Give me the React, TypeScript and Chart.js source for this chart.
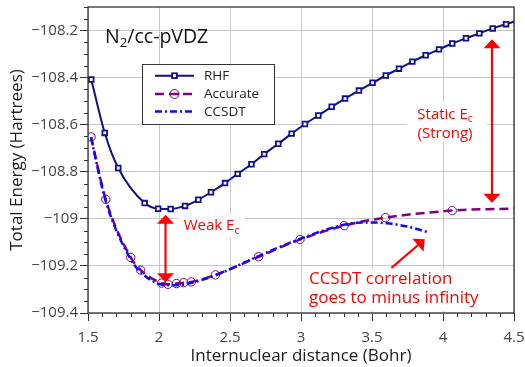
import React, { useEffect, useRef } from 'react';
import { Chart, registerables } from 'chart.js';

Chart.register(...registerables);

// ---------- data ----------
const rhfX = [1.523, 1.618, 1.713, 1.899, 1.994, 2.082, 2.183, 2.277, 2.366, 2.465, 2.554, 2.651, 2.741, 2.840, 2.934, 3.028, 3.122, 3.216, 3.310, 3.408, 3.504, 3.597, 3.690, 3.784, 3.878, 3.972, 4.065, 4.162, 4.256, 4.350, 4.444, 4.538];
const rhfE = [-108.408, -108.635, -108.784, -108.933, -108.957, -108.958, -108.945, -108.919, -108.887, -108.848, -108.809, -108.768, -108.725, -108.681, -108.638, -108.597, -108.561, -108.524, -108.489, -108.455, -108.422, -108.391, -108.362, -108.332, -108.305, -108.280, -108.255, -108.233, -108.212, -108.191, -108.173, -108.155];

const accX = [1.521, 1.625, 1.801, 1.871, 2.018, 2.063, 2.123, 2.174, 2.227, 2.397, 2.702, 2.993, 3.304, 3.595, 4.065, 4.5];
const accE = [-108.652, -108.917, -109.164, -109.218, -109.273, -109.278, -109.275, -109.271, -109.268, -109.238, -109.161, -109.088, -109.029, -108.995, -108.965, -108.956];
const accMarker = [true, true, true, true, true, true, true, true, true, true, true, true, true, true, true, false];

const ccX = [1.521, 1.625, 1.801, 1.871, 2.018, 2.123, 2.227, 2.397, 2.702, 2.993, 3.304, 3.44, 3.61, 3.75, 3.887];
const ccE = [-108.655, -108.925, -109.172, -109.226, -109.279, -109.282, -109.272, -109.240, -109.158, -109.085, -109.025, -109.015, -109.019, -109.033, -109.055];

const xTicks = [1.5, 2, 2.5, 3, 3.5, 4, 4.5];
const xTickLabels = ['1.5', '2', '2.5', '3', '3.5', '4', '4.5'];
const yTicks = [-109.4, -109.2, -109, -108.8, -108.6, -108.4, -108.2];
const yTickLabels = ['\u2212109.4', '\u2212109.2', '\u2212109', '\u2212108.8', '\u2212108.6', '\u2212108.4', '\u2212108.2'];
const xMinorPerMajor = 5; // minor ticks every 0.1
const yMinorPerMajor = 4; // minor ticks every 0.05

const seriesNames = ['RHF', 'Accurate', 'CCSDT'];
const xTitle = 'Internuclear distance (Bohr)';
const yTitle = 'Total Energy (Hartrees)';

// ---------- styles ----------
const FONT = '"Open Sans", "Noto Sans", sans-serif';
const NAVY = '#10108a';
const PURPLE = '#800080';
const BLUE = '#0a0aff';
const RED = '#ff0000';
const GRID = '#c8c8c8';
const AXIS = '#333333';

type Part = { t: string; sub?: boolean };

function drawRich(ctx: CanvasRenderingContext2D, parts: Part[], x: number, y: number, size: number, align: 'left' | 'center', color: string) {
  const subSize = size * 0.68;
  ctx.textBaseline = 'alphabetic';
  const widths = parts.map(p => {
    ctx.font = `${p.sub ? subSize : size}px ${FONT}`;
    return ctx.measureText(p.t).width;
  });
  const total = widths.reduce((a, b) => a + b, 0);
  let cx = align === 'center' ? x - total / 2 : x;
  ctx.fillStyle = color;
  ctx.textAlign = 'left';
  parts.forEach((p, i) => {
    ctx.font = `${p.sub ? subSize : size}px ${FONT}`;
    ctx.fillText(p.t, cx, p.sub ? y + size * 0.22 : y);
    cx += widths[i];
  });
  return { left: align === 'center' ? x - total / 2 : x, width: total };
}

function drawArrow(ctx: CanvasRenderingContext2D, x1: number, y1: number, x2: number, y2: number, both: boolean) {
  const hl = 9, hw = 8.5;
  const dx = x2 - x1, dy = y2 - y1;
  const len = Math.hypot(dx, dy);
  const ux = dx / len, uy = dy / len;
  const px = -uy, py = ux;
  ctx.strokeStyle = RED;
  ctx.fillStyle = RED;
  ctx.lineWidth = 2.2;
  ctx.setLineDash([]);
  ctx.beginPath();
  const sx = both ? x1 + ux * hl * 0.8 : x1;
  const sy = both ? y1 + uy * hl * 0.8 : y1;
  ctx.moveTo(sx, sy);
  ctx.lineTo(x2 - ux * hl * 0.8, y2 - uy * hl * 0.8);
  ctx.stroke();
  const head = (tx: number, ty: number, dirx: number, diry: number) => {
    ctx.beginPath();
    ctx.moveTo(tx, ty);
    ctx.lineTo(tx - dirx * hl + px * hw, ty - diry * hl + py * hw);
    ctx.lineTo(tx - dirx * hl - px * hw, ty - diry * hl - py * hw);
    ctx.closePath();
    ctx.fill();
  };
  head(x2, y2, ux, uy);
  if (both) head(x1, y1, -ux, -uy);
}

// annotation anchors in data coordinates
const titleAnchor = { x: 1.62, y: -108.251 };
const staticAnchor = { x: 4.014, y1: -108.553, y2: -108.634 };
const weakAnchor = { x: 2.174, y: -109.026 };
const ccsdtAnchor = { x: 3.056, y1: -109.251, y2: -109.332 };
const staticArrow = { x1: 4.345, y1: -108.237, x2: 4.345, y2: -108.932 };
const weakArrow = { x1: 2.046, y1: -108.983, x2: 2.046, y2: -109.269 };
const ccsdtArrow = { x1: 3.637, y1: -109.208, x2: 3.872, y2: -109.087 };

const bgPlugin = {
  id: 'textBackgrounds',
  beforeDatasetsDraw(chart: any) {
    const { ctx, scales } = chart;
    const xs = scales.x, ys = scales.y;
    ctx.save();
    ctx.fillStyle = '#ffffff';
    const cx = xs.getPixelForValue(staticAnchor.x);
    ctx.fillRect(cx - 38, ys.getPixelForValue(staticAnchor.y1) - 12, 80, 40);
    let lx = xs.getPixelForValue(weakAnchor.x);
    ctx.fillRect(lx - 5, ys.getPixelForValue(weakAnchor.y) - 11, 66, 24);
    lx = xs.getPixelForValue(ccsdtAnchor.x);
    ctx.fillRect(lx - 6, ys.getPixelForValue(ccsdtAnchor.y1) - 9, 186, 42);
    ctx.restore();
  },
};

const decorPlugin = {
  id: 'decor',
  afterDraw(chart: any) {
    const { ctx, chartArea: ca, scales } = chart;
    const xs = scales.x, ys = scales.y;
    ctx.save();
    ctx.strokeStyle = AXIS;
    ctx.lineWidth = 1.3;
    ctx.setLineDash([]);
    ctx.strokeRect(ca.left, ca.top, ca.right - ca.left, ca.bottom - ca.top);

    // minor ticks
    ctx.lineWidth = 1;
    ctx.beginPath();
    for (let i = 0; i < xTicks.length - 1; i++) {
      for (let k = 1; k < xMinorPerMajor; k++) {
        const v = xTicks[i] + (xTicks[i + 1] - xTicks[i]) * k / xMinorPerMajor;
        const p = Math.round(xs.getPixelForValue(v)) + 0.5;
        ctx.moveTo(p, ca.bottom);
        ctx.lineTo(p, ca.bottom + 4);
      }
    }
    const yStep = (yTicks[1] - yTicks[0]) / yMinorPerMajor;
    for (let i = 0; i < yTicks.length - 1; i++) {
      for (let k = 1; k < yMinorPerMajor; k++) {
        const v = yTicks[i] + yStep * k;
        const p = Math.round(ys.getPixelForValue(v)) + 0.5;
        ctx.moveTo(ca.left, p);
        ctx.lineTo(ca.left - 4, p);
      }
    }
    for (let k = 1; k <= 2; k++) {
      const v = yTicks[yTicks.length - 1] + yStep * k;
      if (v <= ys.max + 1e-9) {
        const p = Math.round(ys.getPixelForValue(v)) + 0.5;
        ctx.moveTo(ca.left, p);
        ctx.lineTo(ca.left - 4, p);
      }
    }
    ctx.stroke();

    // legend
    const lgX = ca.left + 54, lgY = ca.top + 57, lgW = 132, lgH = 60;
    ctx.fillStyle = '#ffffff';
    ctx.fillRect(lgX, lgY, lgW, lgH);
    ctx.strokeStyle = AXIS;
    ctx.lineWidth = 1;
    ctx.strokeRect(lgX + 0.5, lgY + 0.5, lgW, lgH);
    const rows = [11.7, 30, 47.4];
    const ds = chart.data.datasets;
    rows.forEach((off, i) => {
      const d = ds.find((q: any) => q.label === seriesNames[i]);
      const y = lgY + off;
      ctx.strokeStyle = d.borderColor;
      ctx.lineWidth = d.borderWidth;
      ctx.setLineDash(d.borderDash || []);
      ctx.beginPath();
      ctx.moveTo(lgX + 13, y);
      ctx.lineTo(lgX + 52, y);
      ctx.stroke();
      ctx.setLineDash([]);
      const mx = lgX + 32.5;
      if (i === 0) {
        ctx.fillStyle = '#fff';
        ctx.strokeStyle = NAVY;
        ctx.lineWidth = 1.8;
        ctx.fillRect(mx - 2.4, y - 2.4, 4.8, 4.8);
        ctx.strokeRect(mx - 2.4, y - 2.4, 4.8, 4.8);
      } else if (i === 1) {
        ctx.fillStyle = '#fff';
        ctx.strokeStyle = PURPLE;
        ctx.lineWidth = 1;
        ctx.beginPath();
        ctx.arc(mx, y, 4.5, 0, Math.PI * 2);
        ctx.fill();
        ctx.stroke();
        ctx.beginPath();
        ctx.lineWidth = d.borderWidth;
        ctx.moveTo(mx - 4.5, y);
        ctx.lineTo(mx + 4.5, y);
        ctx.stroke();
      }
      ctx.fillStyle = '#222';
      ctx.font = `13.5px ${FONT}`;
      ctx.textAlign = 'left';
      ctx.textBaseline = 'middle';
      ctx.fillText(seriesNames[i], lgX + 62, y + 0.5);
    });

    drawRich(ctx, [{ t: 'N' }, { t: '2', sub: true }, { t: '/cc-pVDZ' }], xs.getPixelForValue(titleAnchor.x), ys.getPixelForValue(titleAnchor.y), 19.5, 'left', '#111');

    const tsize = 15;
    const base = tsize * 0.36;
    drawRich(ctx, [{ t: 'Static E' }, { t: 'c', sub: true }], xs.getPixelForValue(staticAnchor.x), ys.getPixelForValue(staticAnchor.y1) + base, tsize, 'center', RED);
    drawRich(ctx, [{ t: '(Strong)' }], xs.getPixelForValue(staticAnchor.x), ys.getPixelForValue(staticAnchor.y2) + base, tsize, 'center', RED);
    drawRich(ctx, [{ t: 'Weak E' }, { t: 'c', sub: true }], xs.getPixelForValue(weakAnchor.x), ys.getPixelForValue(weakAnchor.y) + base, tsize, 'left', RED);
    const csize = 17;
    drawRich(ctx, [{ t: 'CCSDT correlation' }], xs.getPixelForValue(ccsdtAnchor.x), ys.getPixelForValue(ccsdtAnchor.y1) + csize * 0.36, csize, 'left', RED);
    drawRich(ctx, [{ t: 'goes to minus infinity' }], xs.getPixelForValue(ccsdtAnchor.x), ys.getPixelForValue(ccsdtAnchor.y2) + csize * 0.36, csize, 'left', RED);

    const arr = (a: any, both: boolean) => drawArrow(ctx, xs.getPixelForValue(a.x1), ys.getPixelForValue(a.y1), xs.getPixelForValue(a.x2), ys.getPixelForValue(a.y2), both);
    arr(staticArrow, true);
    arr(weakArrow, true);
    arr(ccsdtArrow, false);
    ctx.restore();
  },
};

export default function App() {
  const ref = useRef<HTMLCanvasElement>(null);
  useEffect(() => {
    const toXY = (xs: number[], ys: number[]) => xs.map((x, i) => ({ x, y: ys[i] }));
    const chart = new Chart(ref.current as HTMLCanvasElement, {
      type: 'line',
      data: {
        datasets: [
          {
            label: seriesNames[0],
            data: toXY(rhfX, rhfE),
            borderColor: NAVY,
            borderWidth: 2,
            pointStyle: 'rect',
            pointRadius: 3.3,
            pointBorderWidth: 1.8,
            pointBackgroundColor: '#ffffff',
            pointBorderColor: NAVY,
            cubicInterpolationMode: 'monotone',
            clip: { left: 6, top: 6, right: 0, bottom: 6 } as any,
            order: 2,
          },
          {
            label: seriesNames[1],
            data: toXY(accX, accE),
            borderColor: PURPLE,
            borderWidth: 2.5,
            borderDash: [9, 5],
            pointStyle: 'circle',
            pointRadius: accMarker.map(m => (m ? 4.2 : 0)),
            pointBorderWidth: 1,
            pointBackgroundColor: 'rgba(0,0,0,0)',
            pointBorderColor: PURPLE,
            cubicInterpolationMode: 'monotone',
            order: 1,
          },
          {
            label: seriesNames[2],
            data: toXY(ccX, ccE),
            borderColor: BLUE,
            borderWidth: 2.5,
            borderDash: [7, 3, 2, 3],
            pointRadius: 0,
            cubicInterpolationMode: 'monotone',
            order: 0,
          },
        ],
      },
      options: {
        animation: false,
        responsive: true,
        maintainAspectRatio: false,
        layout: { padding: { top: 7, right: 11, left: 0, bottom: 0 } },
        plugins: { legend: { display: false }, tooltip: { enabled: false } },
        scales: {
          x: {
            type: 'linear',
            min: 1.5,
            max: 4.5,
            afterBuildTicks: (s: any) => { s.ticks = xTicks.map(v => ({ value: v })); },
            afterFit: (s: any) => { s.height = 54; s.paddingLeft = 0; s.paddingRight = 0; },
            ticks: {
              callback: (v: any) => xTickLabels[xTicks.indexOf(Number(v))] ?? '',
              font: { family: FONT, size: 15 },
              color: '#444',
              padding: 8,
              maxRotation: 0,
              autoSkip: false,
            },
            grid: { color: GRID, lineWidth: 1, tickLength: 8, tickColor: AXIS, drawTicks: true },
            border: { display: false },
            title: { display: true, text: xTitle, font: { family: FONT, size: 17 }, color: '#1a1a1a', padding: { top: 0, bottom: 1 } },
          },
          y: {
            type: 'linear',
            min: -109.4,
            max: -108.1,
            afterBuildTicks: (s: any) => { s.ticks = yTicks.map(v => ({ value: v })); },
            afterFit: (s: any) => { s.width = 88; s.paddingTop = 0; s.paddingBottom = 0; },
            ticks: {
              callback: (v: any) => yTickLabels[yTicks.indexOf(Number(v))] ?? '',
              font: { family: FONT, size: 15 },
              color: '#444',
              padding: 2,
              autoSkip: false,
            },
            grid: { color: GRID, lineWidth: 1, tickLength: 8, tickColor: AXIS, drawTicks: true },
            border: { display: false },
            title: { display: true, text: yTitle, font: { family: FONT, size: 17 }, color: '#1a1a1a', padding: { top: 7, bottom: 0 } },
          },
        },
      },
      plugins: [bgPlugin, decorPlugin],
    } as any);
    return () => chart.destroy();
  }, []);

  return (
    <div style={{ position: 'absolute', left: 0, top: 0, width: 525, height: 367, background: '#fff' }}>
      <canvas ref={ref} />
    </div>
  );
}
